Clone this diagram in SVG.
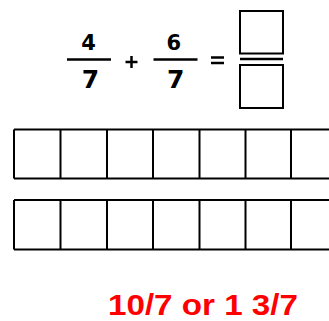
<svg xmlns="http://www.w3.org/2000/svg" width="329" height="321" viewBox="0 0 329 321">
<style>
.num{font-family:"DejaVu Sans","Liberation Sans",sans-serif;font-weight:bold;fill:#000;text-anchor:middle}
.n{font-size:21px}
.d{font-size:25px}
.bar{stroke:#000;stroke-width:2.5}
.box{fill:#fff;stroke:#000;stroke-width:2}
.grid{stroke:#000;stroke-width:2;fill:none}
.ans{font-family:"Liberation Sans",Arial,sans-serif;font-weight:bold;font-size:30px;fill:#ff0000}
</style>
<rect width="329" height="321" fill="#fff"/>
<g id="fraction1">
<text class="num n" x="88.5" y="50">4</text>
<line class="bar" x1="67" y1="59.5" x2="111" y2="59.5"/>
<text class="num d" x="90.5" y="88.3">7</text>
</g>
<g id="plus">
<line class="bar" x1="125.5" y1="62" x2="137.5" y2="62" stroke-width="3.5"/>
<line class="bar" x1="131.5" y1="56" x2="131.5" y2="68" stroke-width="3.5"/>
</g>
<g id="fraction2">
<text class="num n" x="173.7" y="50">6</text>
<line class="bar" x1="153.5" y1="59.5" x2="197.5" y2="59.5"/>
<text class="num d" x="175.7" y="88.3">7</text>
</g>
<g id="equals">
<line class="bar" x1="211" y1="57.5" x2="224" y2="57.5" stroke-width="3"/>
<line class="bar" x1="211" y1="63" x2="224" y2="63" stroke-width="3"/>
</g>
<g id="answer-fraction">
<rect class="box" x="240" y="11" width="43" height="42.5"/>
<line class="bar" x1="240" y1="59" x2="283" y2="59" stroke-width="3"/>
<rect class="box" x="240" y="65" width="43" height="43"/>
</g>
<g id="grid-row1">
<path class="grid" d="M14 129.5H329M14 178.5H329M14 129.5V178.5M60.5 129.5V178.5M107 129.5V178.5M153 129.5V178.5M199.5 129.5V178.5M245.5 129.5V178.5M291 129.5V178.5"/>
</g>
<g id="grid-row2">
<path class="grid" d="M14 200H329M14 249.5H329M14 200V249.5M60.5 200V249.5M107 200V249.5M153 200V249.5M199.5 200V249.5M245.5 200V249.5M291 200V249.5"/>
</g>
<g id="answer">
<text class="ans" x="108" y="315" textLength="190" lengthAdjust="spacingAndGlyphs">10/7 or 1 3/7</text>
</g>
</svg>
